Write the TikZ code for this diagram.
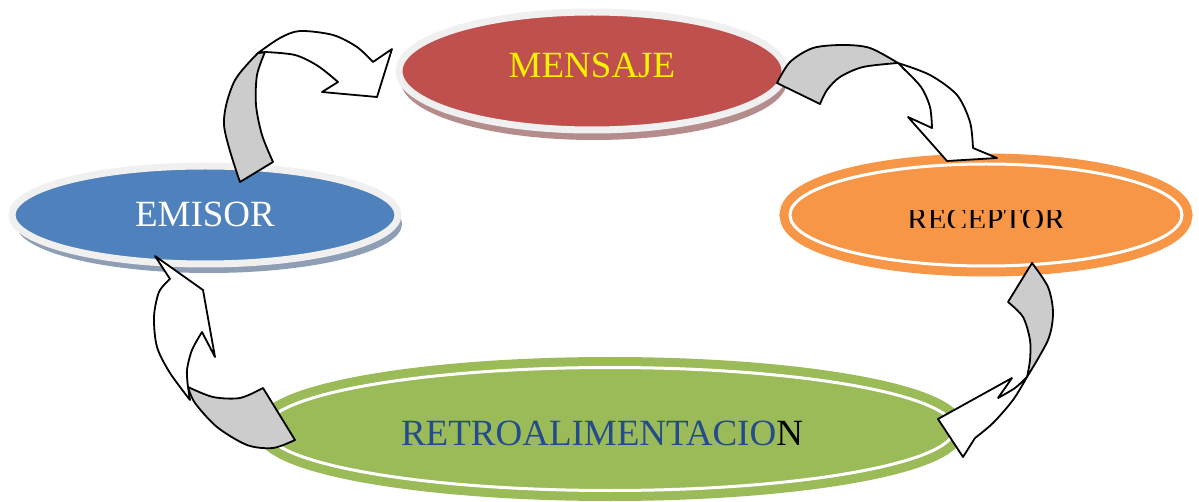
\documentclass[tikz,border=0pt]{standalone}
\RequirePackage{xcolor}
\usepackage{fontspec}
\setmainfont{Liberation Serif}
\usetikzlibrary{calc}
\usetikzlibrary{shapes.geometric}
\usetikzlibrary{shadows}

\definecolor{emiblue}{HTML}{4F81BD}
\definecolor{menred}{HTML}{C0504D}
\definecolor{recorange}{HTML}{F79646}
\definecolor{retgreen}{HTML}{9BBB59}
\definecolor{retblue}{HTML}{244C8C}
\definecolor{rimgray}{HTML}{F0F0F0}
\definecolor{arrowgray}{HTML}{CCCCCC}
\definecolor{menshadow}{HTML}{B58C8C}
\definecolor{emishadow}{HTML}{8E9EB4}

\tikzset{
  bubble/.style={ellipse, draw=rimgray, line width=7pt, fill=#1, inner sep=0pt},
  ring/.style={ellipse, draw=#1, fill=#1, line width=9pt, double=white,
    double distance=3pt, inner sep=0pt},
  back/.style={draw=black, line width=1.8pt, fill=arrowgray, line join=round},
  front/.style={draw=black, line width=1.8pt, fill=white, line join=round},
  caption/.style={font=\fontsize{37}{40}\selectfont, inner sep=0pt, anchor=base},
}

\begin{document}
\begin{tikzpicture}[x=1pt, y=-1pt]
  \useasboundingbox (0,0) rectangle (1199,502);

  % the four bubbles
  \node[bubble=menred, minimum width=386pt, minimum height=118pt,
    drop shadow={shadow xshift=2pt, shadow yshift=-10pt, fill=menshadow, opacity=1}]
    (Men) at (592,71) {};
  \node[bubble=emiblue, minimum width=386pt, minimum height=98pt,
    drop shadow={shadow xshift=4pt, shadow yshift=-9pt, fill=emishadow, opacity=1}]
    (Emi) at (205,215) {};
  \node[ring=recorange, minimum width=392pt, minimum height=102pt] (Rec) at (986,215) {};
  \node[ring=retgreen, minimum width=689pt, minimum height=123pt] (Ret) at (610,429) {};

  % texts
  \node[caption, text=yellow] (MenT) at ($(Men.center)+(0,7)$) {MENSAJE};
  \node[caption, text=white] (EmiT) at ($(Emi.center)+(0,12)$) {EMISOR};
  \begin{scope}
    \clip ($(Rec.center)+(-200,-4)$) rectangle ($(Rec.center)+(200,13)$);
    \node[caption, font=\fontsize{31}{34}\selectfont] (RecT) at ($(Rec.center)+(0,15)$) {RECEPTOR};
  \end{scope}
  \node[caption, text=retblue] (RetT) at ($(Ret.center)+(-8,16)$)
    {RETROALIMENTACIO{\color{black}N}};

  % EMISOR -> MENSAJE
  \draw[back] plot[smooth] coordinates {(240,182) (224,125) (234,82) (258,53)}
    -- plot[smooth] coordinates {(265,52) (257,75) (256,105) (262,135) (273,162)} -- cycle;
  \draw[front] plot[smooth] coordinates {(258,53) (280,38) (300,31) (333,35) (357,47) (373,62)}
    -- (392,49) -- (377,97) -- (322,92) -- (338,82)
    -- plot[smooth] coordinates {(338,82) (318,66) (295,55) (265,52)} -- cycle;

  % MENSAJE -> RECEPTOR
  \draw[back] plot[smooth] coordinates {(777,83) (790,62) (813,48) (843,45) (870,48) (898,63)}
    -- plot[smooth] coordinates {(898,63) (863,67) (840,77) (827,90) (820,104)} -- cycle;
  \draw[front] plot[smooth] coordinates {(898,63) (930,75) (957,95) (970,122) (973,148)}
    -- (997,158) -- (947,161) -- (908,117) -- (932,128)
    -- plot[smooth] coordinates {(932,128) (930,107) (921,87) (903,68) (898,63)} -- cycle;

  % RECEPTOR -> RETROALIMENTACION
  \draw[back] (1008,302) -- plot[smooth] coordinates {(1032,263) (1048,287) (1053,313) (1048,340) (1027,377)}
    -- plot[smooth] coordinates {(1027,377) (1030,360) (1030,340) (1023,317) (1008,302)} -- cycle;
  \draw[front] plot[smooth] coordinates {(1027,377) (1013,400) (993,423) (975,438)}
    -- (963,457) -- (938,419) -- (1012,378) -- (998,398)
    -- plot[smooth] coordinates {(998,398) (1015,388) (1027,377)} -- cycle;

  % RETROALIMENTACION -> EMISOR
  \draw[back] plot[smooth] coordinates {(188,387) (213,397) (240,398) (263,388)}
    -- plot[smooth] coordinates {(295,440) (273,448) (247,445) (217,427) (195,403) (188,387)} -- cycle;
  \draw[front] plot[smooth] coordinates {(190,400) (170,373) (157,347) (154,317) (159,292) (170,279)}
    -- (155,256) -- (203,290) -- (215,357) -- (202,332)
    -- plot[smooth] coordinates {(202,332) (192,350) (187,370) (188,387)} -- cycle;
\end{tikzpicture}
\end{document}
